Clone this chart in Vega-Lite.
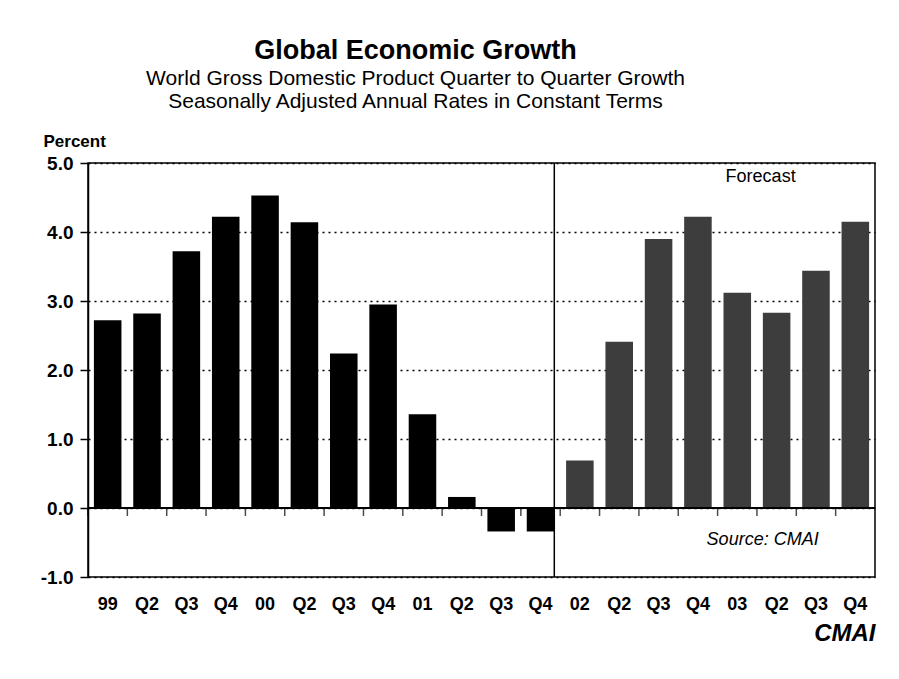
{
  "$schema": "https://vega.github.io/schema/vega-lite/v6.json",
  "autosize": {"type": "none"},
  "width": 787,
  "height": 414,
  "padding": {"left": 88, "top": 163, "right": 24, "bottom": 102},
  "background": "white",
  "title": {
    "text": "Global Economic Growth",
    "subtitle": ["World Gross Domestic Product Quarter to Quarter Growth", "Seasonally Adjusted Annual Rates in Constant Terms"],
    "anchor": "middle",
    "frame": "group",
    "dx": -66,
    "offset": 19,
    "font": "Liberation Sans",
    "fontSize": 27,
    "fontWeight": "bold",
    "color": "black",
    "subtitleFont": "Liberation Sans",
    "subtitleFontSize": 21,
    "subtitleColor": "black",
    "subtitleLineHeight": 23,
    "subtitlePadding": 3
  },
  "config": {
    "view": {"stroke": "black", "strokeWidth": 1.5},
    "font": "Liberation Sans"
  },
  "data": {
    "values": [
      {"q": "1999-Q1", "growth": 2.72, "kind": "Actual"},
      {"q": "1999-Q2", "growth": 2.82, "kind": "Actual"},
      {"q": "1999-Q3", "growth": 3.72, "kind": "Actual"},
      {"q": "1999-Q4", "growth": 4.22, "kind": "Actual"},
      {"q": "2000-Q1", "growth": 4.53, "kind": "Actual"},
      {"q": "2000-Q2", "growth": 4.14, "kind": "Actual"},
      {"q": "2000-Q3", "growth": 2.24, "kind": "Actual"},
      {"q": "2000-Q4", "growth": 2.95, "kind": "Actual"},
      {"q": "2001-Q1", "growth": 1.36, "kind": "Actual"},
      {"q": "2001-Q2", "growth": 0.16, "kind": "Actual"},
      {"q": "2001-Q3", "growth": -0.34, "kind": "Actual"},
      {"q": "2001-Q4", "growth": -0.34, "kind": "Actual"},
      {"q": "2002-Q1", "growth": 0.69, "kind": "Forecast"},
      {"q": "2002-Q2", "growth": 2.41, "kind": "Forecast"},
      {"q": "2002-Q3", "growth": 3.9, "kind": "Forecast"},
      {"q": "2002-Q4", "growth": 4.22, "kind": "Forecast"},
      {"q": "2003-Q1", "growth": 3.12, "kind": "Forecast"},
      {"q": "2003-Q2", "growth": 2.83, "kind": "Forecast"},
      {"q": "2003-Q3", "growth": 3.44, "kind": "Forecast"},
      {"q": "2003-Q4", "growth": 4.15, "kind": "Forecast"}
    ]
  },
  "layer": [
    {
      "mark": {"type": "bar"},
      "encoding": {
        "x": {
          "field": "q",
          "type": "nominal",
          "sort": null,
          "title": "CMAI",
          "scale": {"type": "band", "paddingInner": 0.3, "paddingOuter": 0.15},
          "axis": {
            "orient": "bottom",
            "domain": false,
            "ticks": false,
            "labelAngle": 0,
            "labelFontSize": 18,
            "labelFontWeight": "bold",
            "labelColor": "black",
            "labelPadding": 18,
            "labelExpr": "indexof(datum.value, 'Q1') >= 0 ? substring(datum.value, 2, 4) : substring(datum.value, 5)",
            "titleAnchor": "end",
            "titlePadding": 8,
            "titleFontSize": 24,
            "titleFontWeight": "bold",
            "titleFontStyle": "italic",
            "titleColor": "black"
          }
        },
        "y": {
          "field": "growth",
          "type": "quantitative",
          "title": "Percent",
          "scale": {"domain": [-1, 5], "nice": false, "zero": false},
          "axis": {
            "values": [-1, 0, 1, 2, 3, 4, 5],
            "format": ".1f",
            "labelExpr": "replace(datum.label, '\u2212', '-')",
            "labelFontSize": 19,
            "labelFontWeight": "bold",
            "labelColor": "black",
            "labelPadding": 7,
            "tickColor": "black",
            "tickSize": 8,
            "tickWidth": 1.5,
            "domainColor": "black",
            "domainWidth": 1.5,
            "grid": true,
            "gridColor": "black",
            "gridDash": [2, 4],
            "gridWidth": 1.5,
            "gridOpacity": 1,
            "titleAngle": 0,
            "titleX": -45,
            "titleY": -22,
            "titleAlign": "left",
            "titleBaseline": "middle",
            "titleFontSize": 17,
            "titleFontWeight": "bold",
            "titleColor": "black"
          }
        },
        "color": {
          "field": "kind",
          "type": "nominal",
          "scale": {"domain": ["Actual", "Forecast"], "range": ["#000000", "#3d3d3d"]},
          "legend": null
        }
      }
    },
    {
      "mark": {"type": "rule", "color": "black", "strokeWidth": 1.5},
      "encoding": {
        "y": {"datum": 0, "type": "quantitative"}
      }
    },
    {
      "mark": {"type": "tick", "orient": "vertical", "color": "black", "thickness": 1.5, "size": 8, "yOffset": 4, "xOffset": -5.9},
      "encoding": {
        "x": {"field": "q", "type": "nominal", "sort": null, "bandPosition": 0},
        "y": {"datum": 0, "type": "quantitative"}
      }
    },
    {
      "transform": [{"filter": "datum.q === '2001-Q4'"}],
      "mark": {"type": "rule", "color": "black", "strokeWidth": 1.5},
      "encoding": {
        "x": {"field": "q", "type": "nominal", "sort": null, "bandPosition": 1}
      }
    },
    {
      "transform": [{"filter": "datum.q === '2003-Q2'"}],
      "mark": {"type": "text", "fontSize": 18, "color": "black", "align": "center", "baseline": "middle", "dx": -16},
      "encoding": {
        "x": {"field": "q", "type": "nominal", "sort": null},
        "y": {"datum": 4.8, "type": "quantitative"},
        "text": {"value": "Forecast"}
      }
    },
    {
      "transform": [{"filter": "datum.q === '2003-Q2'"}],
      "mark": {"type": "text", "fontSize": 18, "fontStyle": "italic", "color": "black", "align": "center", "baseline": "middle", "dx": -14},
      "encoding": {
        "x": {"field": "q", "type": "nominal", "sort": null},
        "y": {"datum": -0.46, "type": "quantitative"},
        "text": {"value": "Source: CMAI"}
      }
    }
  ]
}
